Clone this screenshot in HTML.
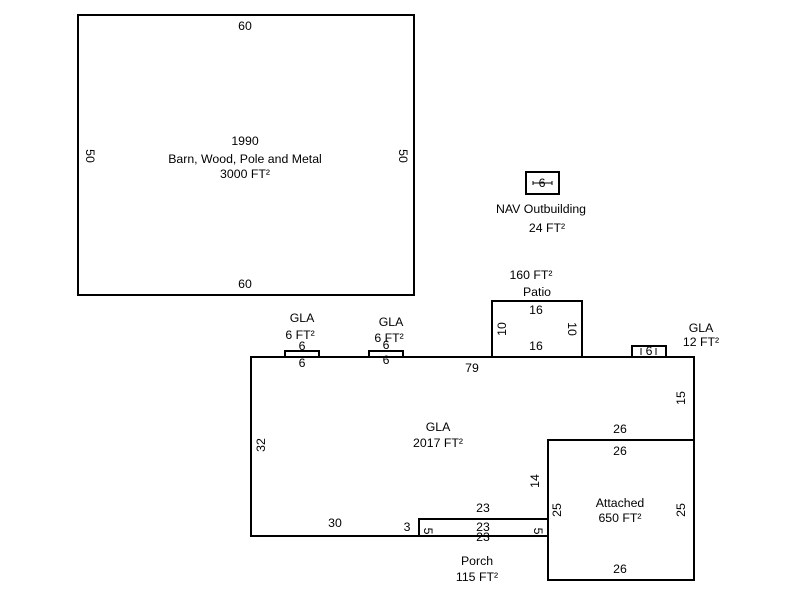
<!DOCTYPE html>
<html><head><meta charset="utf-8"><style>
html,body{margin:0;padding:0;background:#fff}
svg text{font-family:"Liberation Sans",Arial,sans-serif;font-size:12.3px;fill:#000;text-anchor:middle}
</style></head><body>
<svg width="800" height="600" xmlns="http://www.w3.org/2000/svg">
<g fill="none" stroke="#000" stroke-width="2">
<rect x="78" y="15" width="336" height="280"/>
<rect x="492" y="301" width="90" height="56"/>
<rect x="526" y="172" width="33" height="22"/>
<rect x="285" y="351" width="34" height="6"/>
<rect x="369" y="351" width="34" height="6"/>
<rect x="632" y="346" width="34" height="11"/>
<polyline points="419,536 251,536 251,357 694,357 694,440 548,440"/>
<rect x="419" y="519" width="129" height="17"/>
<rect x="548" y="440" width="146" height="140"/>
</g>
<g stroke="#000" stroke-width="1" fill="none">
<path d="M533,183 L552,183 M533,181 L533,185 M552,181 L552,185"/>
<path d="M641,348 L641,355 M656,348 L656,355"/>
</g>
<text x="245" y="30">60</text>
<text x="245" y="288">60</text>
<text transform="translate(86,156) rotate(90)">50</text>
<text transform="translate(399,156) rotate(90)">50</text>
<text x="245" y="145">1990</text>
<text x="245" y="163">Barn, Wood, Pole and Metal</text>
<text x="245" y="178">3000 FT²</text>
<text x="542" y="187">6</text>
<text x="541" y="213">NAV Outbuilding</text>
<text x="547" y="232">24 FT²</text>
<text x="531" y="279">160 FT²</text>
<text x="537" y="296">Patio</text>
<text x="536" y="314">16</text>
<text x="536" y="350">16</text>
<text transform="translate(506,329) rotate(-90)">10</text>
<text transform="translate(568,329) rotate(90)">10</text>
<text x="302" y="322">GLA</text>
<text x="300" y="339">6 FT²</text>
<text x="302" y="350">6</text>
<text x="302" y="367">6</text>
<text x="391" y="326">GLA</text>
<text x="389" y="342">6 FT²</text>
<text x="386" y="349">6</text>
<text x="386" y="364">6</text>
<text x="701" y="332">GLA</text>
<text x="701" y="346">12 FT²</text>
<text x="649" y="355">6</text>
<text x="472" y="372">79</text>
<text transform="translate(685,398) rotate(-90)">15</text>
<text x="438" y="431">GLA</text>
<text x="438" y="447">2017 FT²</text>
<text transform="translate(265,445) rotate(-90)">32</text>
<text x="335" y="527">30</text>
<text x="407" y="531">3</text>
<text transform="translate(424,531) rotate(90)">5</text>
<text transform="translate(534,531) rotate(90)">5</text>
<text x="483" y="512">23</text>
<text x="483" y="531">23</text>
<text x="483" y="541">23</text>
<text transform="translate(539,481) rotate(-90)">14</text>
<text transform="translate(561,510) rotate(-90)">25</text>
<text x="620" y="433">26</text>
<text x="620" y="455">26</text>
<text x="620" y="507">Attached</text>
<text x="620" y="522">650 FT²</text>
<text transform="translate(685,510) rotate(-90)">25</text>
<text x="620" y="573">26</text>
<text x="477" y="565">Porch</text>
<text x="477" y="581">115 FT²</text>
</svg>
</body></html>
